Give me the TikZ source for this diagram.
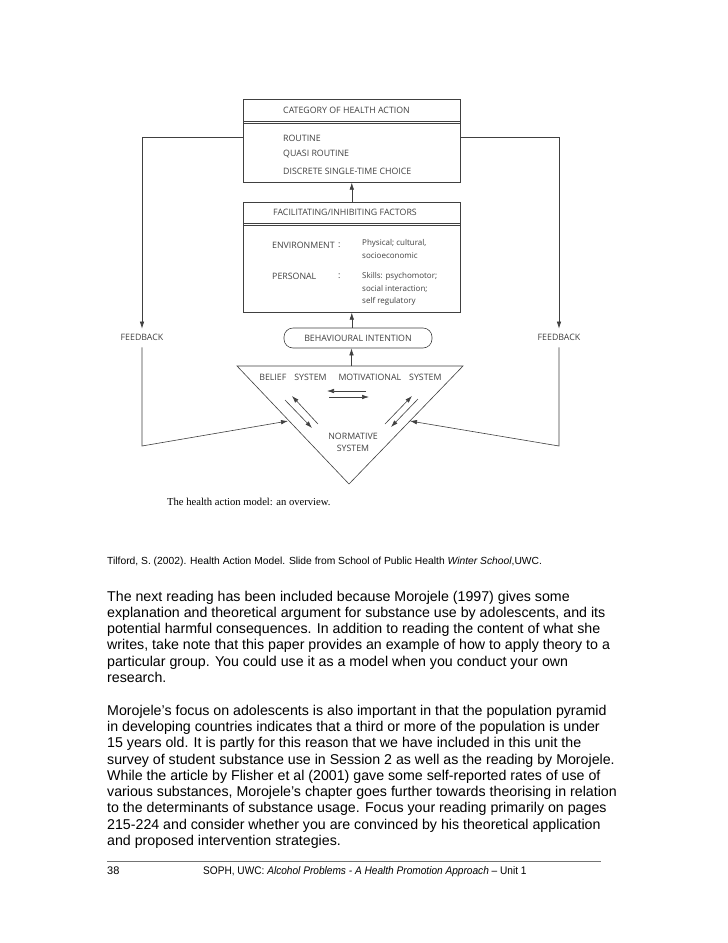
\documentclass[tikz,border=0pt]{standalone}
\usepackage{fontspec}
\setmainfont{Liberation Sans}
\newfontfamily\diagfont{Open Sans}
\newfontfamily\capfont{Liberation Serif}
\usetikzlibrary{arrows.meta}
\begin{document}
\begin{tikzpicture}[x=1pt,y=-1pt,
  ln/.style={draw=black!75, line width=0.6pt},
  arr/.style={ln, -{Latex[length=7pt,width=4.5pt]}},
  boxshape/.style={ln, draw, inner sep=0, anchor=north west, minimum width=217pt},
  dtext/.style={font=\diagfont\fontsize{8.8}{12}\selectfont, text=black!75, inner sep=0},
  dsmall/.style={font=\diagfont\fontsize{8}{10}\selectfont, text=black!75, inner sep=0, anchor=west},
  body/.style={font=\fontsize{14.2}{16.3}\selectfont, anchor=base west, inner sep=0},
]
\fill[white] (0,0) rectangle (728,943);
\useasboundingbox (0,0) rectangle (728,943);

% ---------- Category box ----------
\node[boxshape, minimum height=83pt] (cat) at (243,99) {};
\draw[ln] (243,121) -- (460,121);
\draw[ln] (243,123) -- (460,123);
\node[dtext, anchor=west] (catH) at (283,110) {CATEGORY OF HEALTH ACTION};
\node[dtext, anchor=west] (r1) at (283,138) {ROUTINE};
\node[dtext, anchor=west] (r2) at (283,154.5) {QUASI ROUTINE};
\node[dtext, anchor=west] (r3) at (283,171) {DISCRETE SINGLE-TIME CHOICE};

% ---------- Facilitating box ----------
\node[boxshape, minimum height=110pt] (fac) at (243,202) {};
\draw[ln] (243,223) -- (460,223);
\draw[ln] (243,225) -- (460,225);
\node[dtext, anchor=west] (facH) at (273,212) {FACILITATING/INHIBITING FACTORS};
\node[dtext, anchor=west] (env) at (272,245) {ENVIRONMENT};
\node[dtext, anchor=west] (c1) at (338,245) {:};
\node[dsmall] (env1) at (362,243) {Physical; cultural,};
\node[dsmall] (env2) at (362,256) {socioeconomic};
\node[dtext, anchor=west] (per) at (272,276) {PERSONAL};
\node[dtext, anchor=west] (c2) at (338,276) {:};
\node[dsmall] (per1) at (362,276) {Skills: psychomotor;};
\node[dsmall] (per2) at (362,288.5) {social interaction;};
\node[dsmall] (per3) at (362,301) {self regulatory};

% ---------- Behavioural intention ----------
\node[ln, draw, rounded corners=9pt, minimum width=148pt, minimum height=20pt, dtext] (bi) at (358,338) {BEHAVIOURAL INTENTION};

% ---------- Triangle ----------
\coordinate (tA) at (237,366);
\coordinate (tB) at (463,366);
\coordinate (tC) at (349,484);
\coordinate (tTop) at (351.5,366);
\draw[ln] (tA) -- (tB) -- (tC) -- cycle;
\node[dtext] (bel) at (293,377) {BELIEF\hspace{8pt}SYSTEM};
\node[dtext] (mot) at (390,377) {MOTIVATIONAL\hspace{8pt}SYSTEM};
\node[dtext, align=center] (norm) at (353,442) {NORMATIVE\\SYSTEM};

% inner arrows
\coordinate (h1s) at (366,391); \coordinate (h1e) at (327,391);
\coordinate (h2s) at (329,397); \coordinate (h2e) at (369,397);
\draw[arr] (h1s) -- (h1e);
\draw[arr] (h2s) -- (h2e);
\coordinate (dA1) at (318,424); \coordinate (dA2) at (292,396);
\coordinate (dB1) at (285,400); \coordinate (dB2) at (312,428);
\coordinate (dC1) at (385,424); \coordinate (dC2) at (412,396);
\coordinate (dD1) at (418,399); \coordinate (dD2) at (391,427);
\draw[arr] (dA1) -- (dA2);
\draw[arr] (dB1) -- (dB2);
\draw[arr] (dC1) -- (dC2);
\draw[arr] (dD1) -- (dD2);

% ---------- vertical arrows ----------
\draw[arr] (tTop) -- (tTop |- bi.south);
\draw[arr] (fac.south |- bi.north) -- (fac.south);
\draw[arr] (fac.north) -- (cat.south);

% ---------- Feedback loops ----------
\node[dtext] (fbL) at (142,337) {FEEDBACK};
\node[dtext] (fbR) at (559,337) {FEEDBACK};
\coordinate (lTop) at (142,137); \coordinate (lBot) at (142,446);
\coordinate (rTop) at (559,137); \coordinate (rBot) at (559,446);
\coordinate (lHit) at (288,421); \coordinate (rHit) at (410,421);
\draw[arr] (cat.west |- lTop) -- (lTop) -- ([yshift=5pt]fbL.north);
\draw[arr] (cat.east |- rTop) -- (rTop) -- ([yshift=5pt]fbR.north);
\draw[arr] ([yshift=-7pt]fbL.south) -- (lBot) -- (lHit);
\draw[arr] ([yshift=-7pt]fbR.south) -- (rBot) -- (rHit);

% caption
\node[font=\capfont\fontsize{10.6}{12}\selectfont, anchor=west, inner sep=0] (cap) at (167,502) {The health action model: an overview.};

% ---------- Page text ----------
\node[font=\fontsize{10.3}{12}\selectfont, anchor=base west, inner sep=0] (cite) at (107,564) {Tilford, S. (2002). Health Action Model. Slide from School of Public Health \textit{Winter School},UWC.};

\node[body] (p1a) at (107,601) {The next reading has been included because Morojele (1997) gives some};
\node[body] (p1b) at (107,617.3) {explanation and theoretical argument for substance use by adolescents, and its};
\node[body] (p1c) at (107,633.6) {potential harmful consequences. In addition to reading the content of what she};
\node[body] (p1d) at (107,649.9) {writes, take note that this paper provides an example of how to apply theory to a};
\node[body] (p1e) at (107,666.2) {particular group. You could use it as a model when you conduct your own};
\node[body] (p1f) at (107,682.5) {research.};

\node[body] (p2a) at (107,715.1) {Morojele’s focus on adolescents is also important in that the population pyramid};
\node[body] (p2b) at (107,731.4) {in developing countries indicates that a third or more of the population is under};
\node[body] (p2c) at (107,747.7) {15 years old. It is partly for this reason that we have included in this unit the};
\node[body] (p2d) at (107,764) {survey of student substance use in Session 2 as well as the reading by Morojele.};
\node[body] (p2e) at (107,780.3) {While the article by Flisher et al (2001) gave some self-reported rates of use of};
\node[body] (p2f) at (107,796.6) {various substances, Morojele’s chapter goes further towards theorising in relation};
\node[body] (p2g) at (107,812.9) {to the determinants of substance usage. Focus your reading primarily on pages};
\node[body] (p2h) at (107,829.2) {215-224 and consider whether you are convinced by his theoretical application};
\node[body] (p2i) at (107,845.5) {and proposed intervention strategies.};

% ---------- Footer ----------
\coordinate (ruleL) at (107,861); \coordinate (ruleR) at (601,861);
\draw[black!55, line width=0.5pt] (ruleL) -- (ruleR);
\node[font=\fontsize{11}{13}\selectfont, anchor=base west, inner sep=0] (pg) at (107,874) {38};
\node[font=\fontsize{11}{13}\selectfont, anchor=base west, inner sep=0] (foot) at (203,874) {\scalebox{0.92}[1]{SOPH, UWC: \textit{Alcohol Problems - A Health Promotion Approach} – Unit 1}};
\end{tikzpicture}
\end{document}
